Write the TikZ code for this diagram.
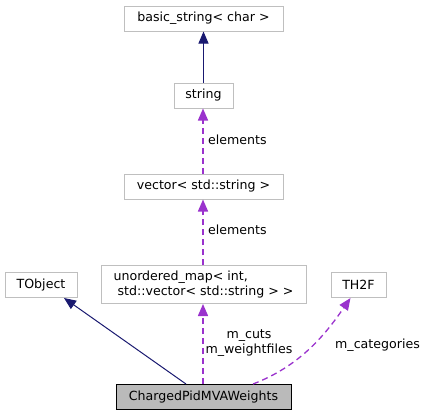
\documentclass[tikz,border=0pt]{standalone}
\usepackage{fontspec}
\setmainfont{DejaVu Sans}
\usetikzlibrary{arrows.meta}
\definecolor{inherit}{RGB}{25,25,112}
\definecolor{usage}{RGB}{154,50,205}
\definecolor{boxgray}{RGB}{191,191,191}
\tikzset{
    classbox/.style={draw=boxgray, line width=1pt, inner sep=0pt, font=\fontsize{12.6}{14.5}\selectfont},
    mainbox/.style={classbox, draw=black, fill=black!27},
    inheritarrow/.style={draw=inherit, line width=1pt, -{Triangle[length=12pt,width=10pt]}},
    usagearrow/.style={draw=usage, line width=1.5pt, dash pattern=on 6pt off 4pt, -{Triangle[length=12pt,width=10pt]}},
    edgelabel/.style={font=\fontsize{12.6}{14.5}\selectfont, inner sep=1pt}
}

\begin{document}
\begin{tikzpicture}[x=1pt, y=-1pt]
    \useasboundingbox (0,0) rectangle (429,416);

    % classes
    \node[classbox, minimum width=159pt, minimum height=25pt] (basicstring) at (203.5,18.5) {basic\_string< char >};
    \node[classbox, minimum width=59pt, minimum height=25pt] (string) at (203.5,95.5) {string};
    \node[classbox, minimum width=159pt, minimum height=25pt] (vector) at (203.5,186.5) {vector< std::string >};
    \node[classbox, minimum width=205pt, minimum height=38pt, align=left] (umap) at (203.5,284.5) {unordered\_map< int,\\\ std::vector< std::string > >};
    \node[classbox, minimum width=72pt, minimum height=25pt] (tobject) at (41,285) {TObject};
    \node[classbox, minimum width=55pt, minimum height=25pt] (thtwof) at (358.5,285) {TH2F};
    \node[mainbox, minimum width=175pt, minimum height=25pt] (weights) at (203.5,397) {ChargedPidMVAWeights};

    % inheritance
    \draw[inheritarrow] (string.north) -- (basicstring.south);
    \draw[inheritarrow] ([xshift=-17.5pt]weights.north) -- ([xshift=23pt]tobject.south);

    % usage
    \draw[usagearrow] ([xshift=-0.5pt]vector.north) -- ([xshift=-0.5pt]string.south);
    \draw[usagearrow] ([xshift=-0.5pt]umap.north) -- ([xshift=-0.5pt]vector.south);
    \draw[usagearrow] ([xshift=-0.5pt]weights.north) -- ([xshift=-0.5pt]umap.south);
    \draw[usagearrow, line width=1.3pt] ([xshift=49.5pt]weights.north) .. controls (300,366) and (325,335) .. ([xshift=-8pt]thtwof.south);

    % member labels
    \node[edgelabel, anchor=west] (strlabel) at (207,140) {elements};
    \node[edgelabel, anchor=west] (veclabel) at (207,230) {elements};
    \node[edgelabel, align=center] (maplabel) at (249,343) {m\_cuts\\m\_weightfiles};
    \node[edgelabel, anchor=west] (catlabel) at (334,345) {m\_categories};
\end{tikzpicture}
\end{document}
